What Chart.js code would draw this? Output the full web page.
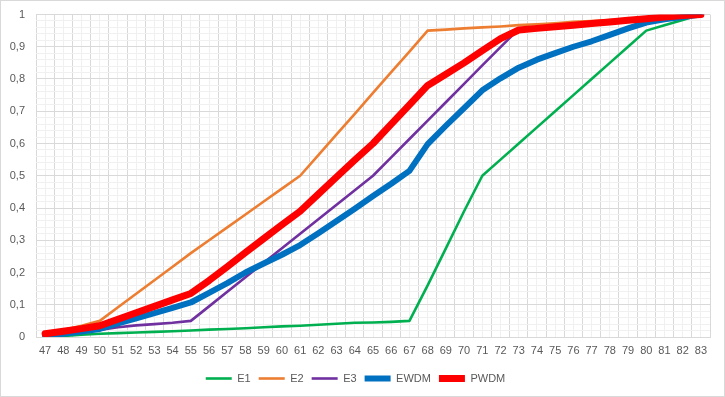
<!DOCTYPE html>
<html lang="en">
<head>
  <meta charset="UTF-8">
  <title>E1 / E2 / E3 / EWDM / PWDM</title>
  <style>
    * {
      margin: 0;
      padding: 0;
      box-sizing: border-box;
    }

    body {
      background-color: #fff;
    }

    #frame {
      width: 725px;
      height: 397px;
      border: 1px solid #d9d9d9;
      background-color: #fff;
    }
  </style>
  <script src="https://cdn.jsdelivr.net/npm/chart.js"></script>
</head>
<body>
  <div id="frame">
    <canvas id="cdfChart" width="723" height="395"></canvas>
  </div>

  <script>
    // Categories along the x axis
    const labels = [
      '47', '48', '49', '50', '51', '52', '53', '54', '55', '56', '57', '58', '59',
      '60', '61', '62', '63', '64', '65', '66', '67', '68', '69', '70', '71', '72',
      '73', '74', '75', '76', '77', '78', '79', '80', '81', '82', '83'
    ];

    // Series values
    const e1 = [
      0, 0.003, 0.007, 0.01, 0.012, 0.014, 0.016, 0.018, 0.02, 0.023, 0.025, 0.027, 0.03,
      0.033, 0.035, 0.038, 0.041, 0.044, 0.045, 0.047, 0.05, 0.16, 0.275, 0.39, 0.5, 0.55,
      0.6, 0.65, 0.7, 0.75, 0.8, 0.85, 0.9, 0.95, 0.967, 0.983, 1
    ];
    const e2 = [
      0.01, 0.022, 0.035, 0.05, 0.092, 0.134, 0.176, 0.218, 0.26, 0.3, 0.34, 0.38, 0.42,
      0.46, 0.5, 0.564, 0.628, 0.692, 0.757, 0.821, 0.885, 0.95, 0.953, 0.957, 0.96, 0.963,
      0.967, 0.97, 0.973, 0.977, 0.98, 0.983, 0.987, 0.99, 0.993, 0.997, 1
    ];
    const e3 = [
      0.005, 0.011, 0.017, 0.022, 0.03, 0.036, 0.04, 0.044, 0.05, 0.095, 0.14, 0.185, 0.23,
      0.275, 0.32, 0.365, 0.41, 0.455, 0.5, 0.557, 0.614, 0.671, 0.728, 0.785, 0.842, 0.899,
      0.955, 0.96, 0.964, 0.968, 0.973, 0.977, 0.982, 0.986, 0.991, 0.995, 1
    ];
    const ewdm = [
      0.003, 0.01, 0.017, 0.025, 0.042, 0.058, 0.074, 0.09, 0.107, 0.137, 0.167, 0.2, 0.228,
      0.255, 0.285, 0.322, 0.36, 0.398, 0.437, 0.475, 0.515, 0.598, 0.655, 0.71, 0.765, 0.802,
      0.835, 0.86, 0.88, 0.9, 0.917, 0.937, 0.957, 0.975, 0.985, 0.992, 1
    ];
    const pwdm = [
      0.01, 0.018, 0.026, 0.035, 0.055, 0.075, 0.095, 0.115, 0.135, 0.175, 0.218, 0.262, 0.305,
      0.348, 0.39, 0.443, 0.496, 0.549, 0.6, 0.66, 0.72, 0.78, 0.815, 0.85, 0.888, 0.925,
      0.952, 0.957, 0.962, 0.967, 0.972, 0.977, 0.982, 0.987, 0.992, 0.997, 1
    ];

    // Y axis: labelled every 0.1, minor grid every 0.02
    const yMin = 0;
    const yMax = 1;
    const yStep = 0.02;
    const yLabelStep = 0.1;

    const textColor = '#595959';
    const majorGrid = '#d9d9d9';
    const minorGrid = '#f0f0f0';
    const fontFamily = '"Liberation Sans", Arial, sans-serif';

    function isMajor(value) {
      const k = value / yLabelStep;
      return Math.abs(k - Math.round(k)) < 1e-6;
    }

    function makeSeries(label, data, color, width, order) {
      return {
        label: label,
        data: data,
        borderColor: color,
        backgroundColor: color,
        borderWidth: width,
        borderCapStyle: 'round',
        borderJoinStyle: 'round',
        pointRadius: 0,
        pointHoverRadius: 0,
        tension: 0,
        fill: false,
        order: order
      };
    }

    const ctx = document.getElementById('cdfChart').getContext('2d');

    new Chart(ctx, {
      type: 'line',
      data: {
        labels: labels,
        datasets: [
          makeSeries('E1', e1, '#00b050', 2.6, 5),
          makeSeries('E2', e2, '#ed7d31', 2.6, 4),
          makeSeries('E3', e3, '#7030a0', 2.6, 3),
          makeSeries('EWDM', ewdm, '#0070c0', 6, 2),
          makeSeries('PWDM', pwdm, '#ff0000', 7, 1)
        ]
      },
      options: {
        responsive: false,
        animation: false,
        layout: {
          padding: { top: 13.5, right: 14, bottom: 2, left: 0 }
        },
        plugins: {
          tooltip: { enabled: false },
          legend: {
            position: 'bottom',
            labels: {
              usePointStyle: true,
              pointStyle: 'line',
              pointStyleWidth: 26,
              boxHeight: 11,
              padding: 8,
              color: textColor,
              font: { family: fontFamily, size: 11 },
              sort: (a, b) => a.datasetIndex - b.datasetIndex
            }
          }
        },
        scales: {
          xMinor: {
            type: 'category',
            labels: labels,
            position: 'bottom',
            offset: true,
            grid: {
              offset: false,
              color: minorGrid,
              lineWidth: 1,
              drawTicks: false
            },
            border: { display: false },
            ticks: { display: false },
            afterFit: (scale) => { scale.height = 0; }
          },
          x: {
            type: 'category',
            offset: true,
            grid: {
              offset: true,
              color: majorGrid,
              lineWidth: 1,
              drawTicks: false
            },
            border: { color: majorGrid },
            ticks: {
              color: textColor,
              font: { family: fontFamily, size: 11 },
              padding: 7,
              maxRotation: 0,
              autoSkip: false
            },
            afterFit: (scale) => { scale.height = 28; }
          },
          y: {
            min: yMin,
            max: yMax,
            grid: {
              color: (c) => isMajor(c.tick.value) ? majorGrid : minorGrid,
              lineWidth: 1,
              drawTicks: true,
              tickLength: 11,
              tickColor: 'rgba(0,0,0,0)'
            },
            border: { display: false },
            ticks: {
              stepSize: yStep,
              autoSkip: false,
              color: textColor,
              font: { family: fontFamily, size: 11 },
              padding: 0,
              callback: (value) => {
                if (!isMajor(value)) return '';
                const v = Math.round(value * 10) / 10;
                return String(v).replace('.', ',');
              }
            },
            afterFit: (scale) => { scale.width = 35; }
          }
        }
      }
    });
  </script>
</body>
</html>
